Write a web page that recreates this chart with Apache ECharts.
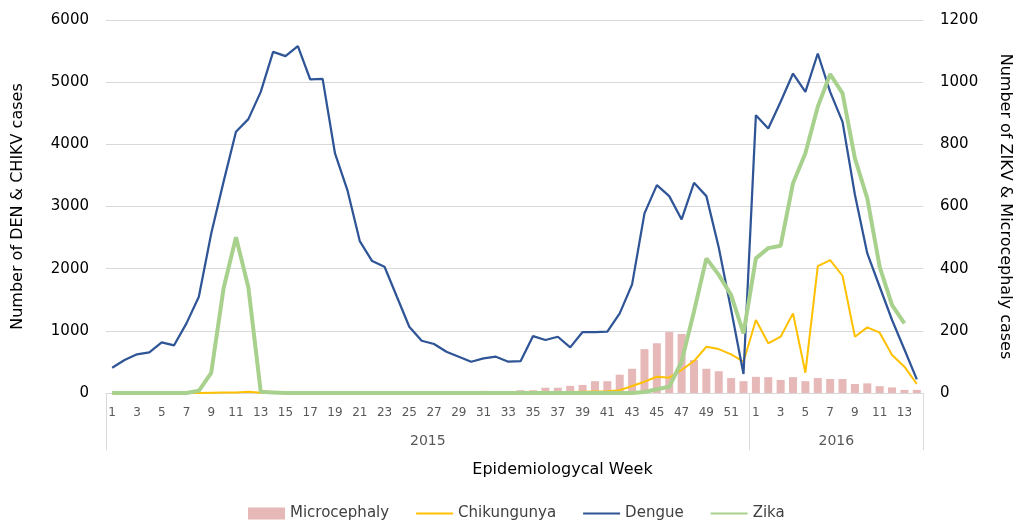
<!DOCTYPE html>
<html>
<head>
<meta charset="utf-8">
<script src="https://cdn.jsdelivr.net/npm/echarts@6/dist/echarts.min.js"></script>
<style>html,body{margin:0;padding:0;background:#fff}#c{width:1014px;height:520px}</style>
</head>
<body>
<div id="c"></div>
<script>
const years = ['2015', '2016'];
const weeks2015 = ['1','2','3','4','5','6','7','8','9','10','11','12','13','14','15','16','17','18','19','20','21','22','23','24','25','26','27','28','29','30','31','32','33','34','35','36','37','38','39','40','41','42','43','44','45','46','47','48','49','50','51','52'];
const weeks2016 = ['1','2','3','4','5','6','7','8','9','10','11','12','13','14'];

const dengue2015 = [407,530,622,654,815,767,1120,1548,2567,3400,4201,4405,4844,5487,5418,5579,5043,5053,3853,3264,2444,2122,2031,1548,1066,841,788,664,584,503,557,584,503,514,916,852,905,734,981,981,986,1281,1747,2889,3344,3167,2792,3381,3167,2340,1340,305];
const dengue2016 = [4469,4255,4684,5139,4844,5461,4844,4362,3190,2245,1709,1174,700,220];

const chik2015 = [0,0,0,0,0,0,0,2,5,8,10,20,5,0,0,0,0,0,0,0,0,0,0,0,0,0,0,0,0,0,0,0,0,0,5,10,12,15,20,25,30,45,112,182,262,246,370,514,744,707,622,503];
const chik2016 = [1174,799,905,1281,326,2042,2138,1886,905,1056,970,611,423,145];

const zika2015 = [0,0,0,0,0,0,0,7,65,337,501,340,4,2,0,0,0,0,0,0,0,0,0,0,0,0,0,0,0,0,0,0,0,0,0,0,0,0,0,0,0,0,0,3,12,20,101,262,433,380,315,192];
const zika2016 = [433,466,474,675,771,921,1026,964,755,626,406,283,224,null];

const micro2015 = [0,0,0,0,0,0,0,0,0,0,0,0,0,0,0,0,0,0,0,0,0,0,0,0,0,0,0,0,0,2,7,5,6,9,9,17,17,23,26,38,38,59,78,141,160,196,190,106,78,70,48,38];
const micro2016 = [52,51,42,51,38,48,45,45,29,31,22,18,10,10];

const weekLabels = weeks2015.concat(weeks2016);
const categories = weeks2015.map(w => years[0] + '-' + w).concat(weeks2016.map(w => years[1] + '-' + w));
const n1 = weeks2015.length, n2 = weeks2016.length, nAll = n1 + n2;
const yearCenters = [n1 / 2, n1 + n2 / 2];

const chart = echarts.init(document.getElementById('c'), null, {renderer: 'canvas'});
chart.setOption({
  animation: false,
  textStyle: {fontFamily: 'DejaVu Sans'},
  grid: {left: 106, right: 91, top: 20, bottom: 127, containLabel: false, outerBoundsMode: 'none'},
  legend: {
    left: 243, top: 501,
    itemWidth: 37, itemHeight: 12, itemGap: 26,
    textStyle: {fontSize: 15, color: '#404040'},
    data: [
      {name: 'Microcephaly', icon: 'rect'},
      {name: 'Chikungunya', itemStyle: {opacity: 0}},
      {name: 'Dengue', itemStyle: {opacity: 0}},
      {name: 'Zika', itemStyle: {opacity: 0}}
    ]
  },
  xAxis: [
    {
      type: 'category',
      data: categories,
      boundaryGap: true,
      axisLine: {show: true, lineStyle: {color: '#d9d9d9', width: 1}},
      axisTick: {show: false},
      axisLabel: {interval: 1, color: '#595959', fontSize: 12, margin: 14,
        formatter: (v, i) => weekLabels[i]},
      splitLine: {show: false},
      name: 'Epidemiologycal Week',
      nameLocation: 'middle',
      nameGap: 69,
      nameTextStyle: {fontSize: 16, color: '#000', padding: [0, 0, 0, 96]}
    },
    {
      type: 'value',
      position: 'bottom',
      min: 0, max: nAll,
      axisLine: {show: false},
      axisTick: {show: true, customValues: [0, n1, nAll], length: 57, inside: false,
        lineStyle: {color: '#d9d9d9', width: 1}},
      axisLabel: {show: true, customValues: yearCenters, color: '#595959', fontSize: 14, margin: 41,
        formatter: v => (v < n1 ? years[0] : years[1])},
      splitLine: {show: false}
    }
  ],
  yAxis: [
    {
      type: 'value', min: 0, max: 6000, interval: 1000,
      axisLine: {show: false}, axisTick: {show: false},
      axisLabel: {color: '#000', fontSize: 15, margin: 17, formatter: v => String(v)},
      splitLine: {lineStyle: {color: '#d9d9d9', width: 1}},
      name: 'Number of DEN & CHIKV cases',
      nameLocation: 'middle', nameGap: 80, nameRotate: 90,
      nameTextStyle: {fontSize: 16, color: '#000'}
    },
    {
      type: 'value', min: 0, max: 1200, interval: 200, position: 'right',
      axisLine: {show: false}, axisTick: {show: false},
      axisLabel: {color: '#000', fontSize: 15, margin: 17, formatter: v => String(v)},
      splitLine: {show: false},
      name: 'Number of ZIKV & Microcephaly cases',
      nameLocation: 'middle', nameGap: 74, nameRotate: -90,
      nameTextStyle: {fontSize: 16, color: '#000'}
    }
  ],
  series: [
    {
      name: 'Microcephaly', type: 'bar', xAxisIndex: 0, yAxisIndex: 1,
      data: micro2015.concat(micro2016),
      barWidth: 8,
      itemStyle: {color: '#E6B8B7'}
    },
    {
      name: 'Chikungunya', type: 'line', xAxisIndex: 0, yAxisIndex: 0,
      data: chik2015.concat(chik2016),
      symbol: 'none', showSymbol: false,
      lineStyle: {color: '#FFC000', width: 2}, itemStyle: {color: '#FFC000'}
    },
    {
      name: 'Dengue', type: 'line', xAxisIndex: 0, yAxisIndex: 0,
      data: dengue2015.concat(dengue2016),
      symbol: 'none', showSymbol: false,
      lineStyle: {color: '#2F5597', width: 2.25}, itemStyle: {color: '#2F5597'}
    },
    {
      name: 'Zika', type: 'line', xAxisIndex: 0, yAxisIndex: 1,
      data: zika2015.concat(zika2016),
      symbol: 'none', showSymbol: false,
      lineStyle: {color: '#A9D18E', width: 4}, itemStyle: {color: '#A9D18E'}
    }
  ]
});
</script>
</body>
</html>
